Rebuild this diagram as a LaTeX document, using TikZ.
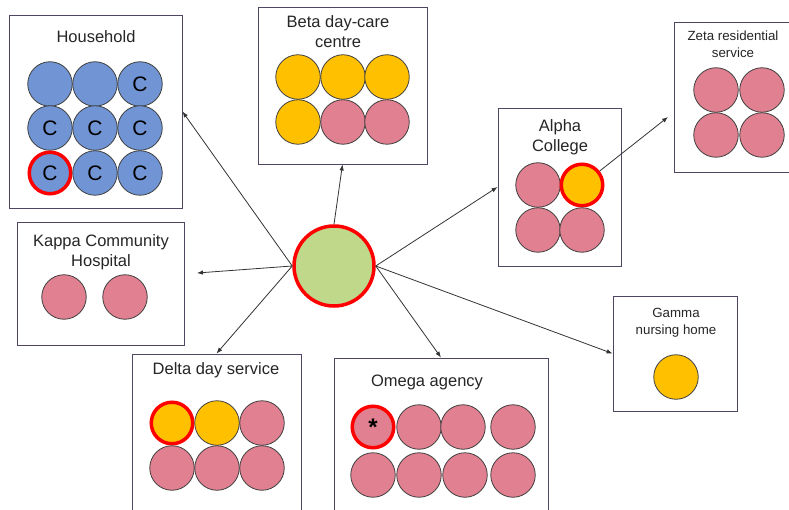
\documentclass[tikz,border=0pt]{standalone}
\usepackage{fontspec}
\setmainfont{Liberation Sans}
\usepackage{xcolor}
\usetikzlibrary{arrows.meta}
\definecolor{hhblue}{RGB}{112,148,212}
\definecolor{amber}{RGB}{255,192,0}
\definecolor{rose}{RGB}{224,128,144}
\definecolor{sage}{RGB}{192,216,138}
\definecolor{boxline}{RGB}{80,70,100}
\definecolor{ringgray}{RGB}{64,64,64}
\tikzset{
    place-box/.style = {draw=boxline, fill=white, line width=0.9pt, rectangle, inner sep=0pt},
    place-title/.style = {font=\fontsize{16.5}{20}\selectfont, align=center, text=black!85},
    small-title/.style = {font=\fontsize{13.3}{17}\selectfont, align=center, text=black!85},
    person/.style = {circle, draw=ringgray, line width=0.8pt, minimum size=44.5pt, inner sep=0pt, font=\fontsize{21}{21}\selectfont},
    flagged/.style = {draw=red, line width=3.5pt, minimum size=41.5pt},
    link/.style = {draw=black!80, line width=0.8pt, -{Latex[length=6pt,width=4.5pt]}},
}

\begin{document}
\begin{tikzpicture}[x=1pt, y=-1pt]
\useasboundingbox (0,0) rectangle (789,510);
\clip (0,0) rectangle (789,510);

% Household
\node [place-box, minimum width=173pt, minimum height=193pt] (hh) at (95.5,111.5) {};
\node [place-title] (hh-title) at (96,37) {Household};
\node [person, fill=hhblue] (hh-1) at (50,84) {};
\node [person, fill=hhblue] (hh-2) at (95,84) {};
\node [person, fill=hhblue] (hh-3) at (140,84) {C};
\node [person, fill=hhblue] (hh-4) at (50,128) {C};
\node [person, fill=hhblue] (hh-5) at (95,128) {C};
\node [person, fill=hhblue] (hh-6) at (140,128) {C};
\node [person, fill=hhblue, flagged] (hh-7) at (50,173) {C};
\node [person, fill=hhblue] (hh-8) at (95,173) {C};
\node [person, fill=hhblue] (hh-9) at (140,173) {C};

% Beta day-care centre
\node [place-box, minimum width=169pt, minimum height=157pt] (beta) at (342.5,85.5) {};
\node [place-title] (beta-title) at (338,31.5) {Beta day-care\\centre};
\node [person, fill=amber] (beta-1) at (298,77) {};
\node [person, fill=amber] (beta-2) at (343,77) {};
\node [person, fill=amber] (beta-3) at (387,77) {};
\node [person, fill=amber] (beta-4) at (298,122) {};
\node [person, fill=rose] (beta-5) at (343,122) {};
\node [person, fill=rose] (beta-6) at (387,122) {};

% Zeta residential service
\node [place-box, minimum width=172pt, minimum height=150pt] (zeta) at (760,97) {};
\node [small-title] (zeta-title) at (733,44.5) {Zeta residential\\service};
\node [person, fill=rose] (zeta-1) at (716,90) {};
\node [person, fill=rose] (zeta-2) at (762,90) {};
\node [person, fill=rose] (zeta-3) at (716,135) {};
\node [person, fill=rose] (zeta-4) at (762,135) {};

% Alpha College
\node [place-box, minimum width=123pt, minimum height=158pt] (alpha) at (559.5,187) {};
\node [place-title] (alpha-title) at (560,137.5) {Alpha\\College};
\node [person, fill=rose] (alpha-1) at (538,185) {};
\node [person, fill=amber, flagged] (alpha-2) at (582,185) {};
\node [person, fill=rose] (alpha-3) at (538,230) {};
\node [person, fill=rose] (alpha-4) at (582,230) {};

% Kappa Community Hospital
\node [place-box, minimum width=167pt, minimum height=123pt] (kappa) at (100.5,283.5) {};
\node [place-title] (kappa-title) at (101,252) {Kappa Community\\Hospital};
\node [person, fill=rose] (kappa-1) at (64,297) {};
\node [person, fill=rose] (kappa-2) at (125,297) {};
\coordinate (kappa-tip) at (197,273);

% Gamma nursing home
\node [place-box, minimum width=124pt, minimum height=115pt] (gamma) at (675,353.5) {};
\node [small-title] (gamma-title) at (676,323) {Gamma\\nursing home};
\node [person, fill=amber] (gamma-1) at (676,377) {};

% Delta day service
\node [place-box, minimum width=169pt, minimum height=176pt] (delta) at (216.5,442) {};
\node [place-title] (delta-title) at (216,370) {Delta day service};
\node [person, fill=amber, flagged] (delta-1) at (172,423) {};
\node [person, fill=amber] (delta-2) at (217,423) {};
\node [person, fill=rose] (delta-3) at (262,423) {};
\node [person, fill=rose] (delta-4) at (172,468) {};
\node [person, fill=rose] (delta-5) at (217,468) {};
\node [person, fill=rose] (delta-6) at (262,468) {};

% Omega agency
\node [place-box, minimum width=214pt, minimum height=172pt] (omega) at (441,444) {};
\node [place-title] (omega-title) at (427,382) {Omega agency};
\node [person, fill=rose, flagged, font=\fontsize{24}{24}\bfseries] (omega-1) at (373,427) {*};
\node [person, fill=rose] (omega-2) at (419,427) {};
\node [person, fill=rose] (omega-3) at (463,427) {};
\node [person, fill=rose] (omega-4) at (513,427) {};
\node [person, fill=rose] (omega-5) at (373,475) {};
\node [person, fill=rose] (omega-6) at (419,475) {};
\node [person, fill=rose] (omega-7) at (465,475) {};
\node [person, fill=rose] (omega-8) at (513,475) {};

% the person in the middle
\node [person, fill=sage, draw=red, line width=3.5pt, minimum size=80pt] (me) at (334,266) {};

\coordinate (zeta-tip) at (668,117);
\draw [link] (me.west) -- (hh.east);
\draw [link] (me.north) -- (beta.south);
\draw [link] (me.west) -- (kappa-tip);
\draw [link] (me.west) -- (delta.north);
\draw [link] (me.east) -- (omega.north);
\draw [link] (me.east) -- (gamma.west);
\draw [link] (me.east) -- (alpha.west);
\draw [link] (alpha-2) -- (zeta-tip);
\end{tikzpicture}
\end{document}
